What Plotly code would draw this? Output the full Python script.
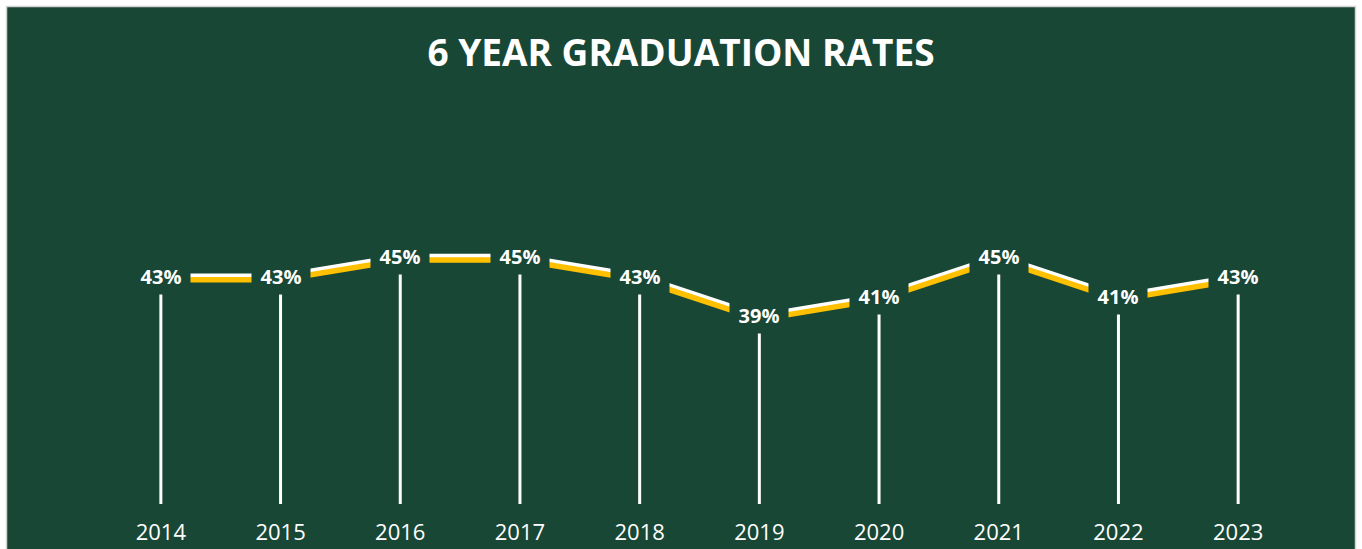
import plotly.graph_objects as go

# ---- data ----
years = [2014, 2015, 2016, 2017, 2018, 2019, 2020, 2021, 2022, 2023]
year_labels = ["2014", "2015", "2016", "2017", "2018", "2019", "2020", "2021", "2022", "2023"]
rates = [0.43, 0.43, 0.45, 0.45, 0.43, 0.39, 0.41, 0.45, 0.41, 0.43]
labels = ["43%", "43%", "45%", "45%", "43%", "39%", "41%", "45%", "41%", "43%"]
title_text = "6 YEAR GRADUATION RATES"

# ---- style ----
GREEN = "#194736"
GOLD = "#FFC000"
WHITE = "#FFFFFF"
FW, FH = 1362, 549
L, R, T, B = 101, 1298, 207, 504   # plot area in pixels
Y0, Y1 = 0.20, 0.50
SHADOW_PX = 3.5
shift = (Y1 - Y0) / (B - T) * SHADOW_PX

fig = go.Figure()

# drop lines (point down to axis)
fig.add_trace(go.Scatter(
    x=years, y=rates, mode="markers",
    marker=dict(size=1, color="rgba(0,0,0,0)"),
    error_y=dict(type="data", symmetric=False,
                 array=[0] * len(rates),
                 arrayminus=[v - Y0 for v in rates],
                 color=WHITE, thickness=3, width=0),
    hoverinfo="skip", showlegend=False))

# gold shadow line (drawn on shifted axis)
fig.add_trace(go.Scatter(
    x=years, y=rates, mode="lines", yaxis="y2",
    line=dict(color=GOLD, width=5.5),
    hoverinfo="skip", showlegend=False))

# white main line
fig.add_trace(go.Scatter(
    x=years, y=rates, mode="lines",
    line=dict(color=WHITE, width=5.5),
    showlegend=False))

# data labels with background masking the lines
for yr, v, lab in zip(years, rates, labels):
    fig.add_annotation(
        x=yr, y=v, xref="x", yref="y", text="<b>" + lab + "</b>",
        showarrow=False, xanchor="center", yanchor="middle",
        bgcolor=GREEN, borderpad=4, width=50,
        font=dict(family="Open Sans", size=20, color=WHITE))

W = R - L
H = B - T
def px(xp):
    return (xp - L) / W
def py(yp):
    return (B - yp) / H

fig.add_shape(type="rect", xref="paper", yref="paper", layer="below",
              x0=px(6.5), x1=px(1355.5), y0=py(600), y1=py(6.5),
              fillcolor=GREEN, line=dict(color="#D4D4D4", width=1.5))

fig.update_layout(
    width=FW, height=FH,
    margin=dict(l=L, r=FW - R, t=T, b=FH - B, autoexpand=False),
    paper_bgcolor="white",
    plot_bgcolor="rgba(0,0,0,0)",
    title=dict(text="<b>" + title_text + "</b>", x=0.5, xanchor="center",
               xref="container", yref="container",
               y=1 - 53 / FH, yanchor="middle",
               font=dict(family="Open Sans", size=37, color=WHITE)),
    xaxis=dict(range=[years[0] - 0.5, years[-1] + 0.5],
               tickvals=years, ticktext=year_labels,
               showgrid=False, zeroline=False, showline=False,
               ticks="", ticklabelstandoff=13, automargin=False,
               tickfont=dict(family="Open Sans", size=22, color=WHITE),
               fixedrange=True),
    yaxis=dict(range=[Y0, Y1], visible=False, showgrid=False,
               fixedrange=True, automargin=False),
    yaxis2=dict(range=[Y0 + shift, Y1 + shift], overlaying="y",
                visible=False, showgrid=False, fixedrange=True),
    showlegend=False,
)

fig.write_html("out.html", config={"displayModeBar": False},
               post_script="document.body.style.margin='0';document.body.style.overflow='hidden';")
